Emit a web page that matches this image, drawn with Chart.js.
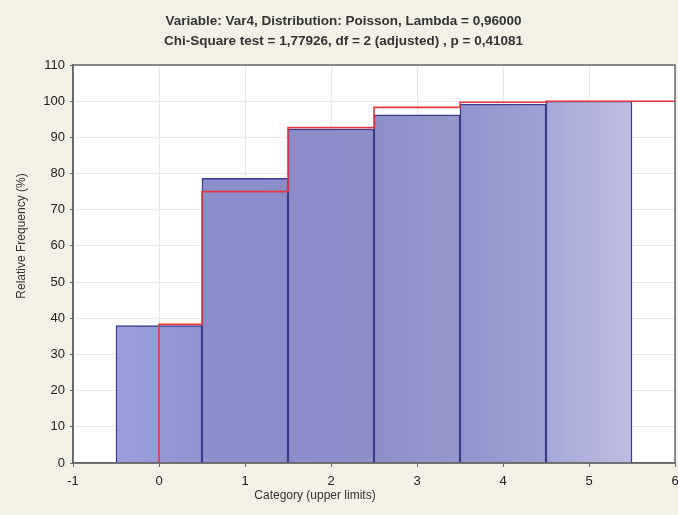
<!DOCTYPE html>
<html>
<head>
<meta charset="utf-8">
<script src="https://cdn.jsdelivr.net/npm/chart.js@4/dist/chart.umd.min.js"></script>
<style>
  html, body { margin: 0; padding: 0; background: #f3f0e6; }
  canvas { display: block; }
</style>
</head>
<body>
<canvas id="c" width="678" height="515"></canvas>
<script>
// ---- data ----
const titleLines = [
  'Variable: Var4, Distribution: Poisson, Lambda = 0,96000',
  'Chi-Square test = 1,77926, df = 2 (adjusted) , p = 0,41081'
];
const xAxisTitle = 'Category (upper limits)';
const yAxisTitle = 'Relative Frequency (%)';
const categories = [0, 1, 2, 3, 4, 5];
const observedPct = [38.0, 78.7, 92.3, 96.2, 99.2, 100.0];   // cumulative observed (bars)
const expectedPct = [38.3, 75.0, 92.7, 98.3, 99.7, 100.0];   // cumulative Poisson (red line)
const stepEdges = [0, 0.5, 1.5, 2.5, 3.5, 4.5];              // where the red line steps up
const xTicks = [-1, 0, 1, 2, 3, 4, 5, 6];
const yTicks = [0, 10, 20, 30, 40, 50, 60, 70, 80, 90, 100, 110];

// ---- styles ----
const barLeft  = ['#9ca1dc', '#8d8fcd', '#8b8cc8', '#8d8ec8', '#8f95cb', '#a4a8d8'];
const barRight = ['#8e92d0', '#8b8dca', '#8e8fc9', '#9598cc', '#9ea3d4', '#c0bde1'];
const FONT = "'Liberation Sans', Arial, sans-serif";

const barData = categories.map((c, i) => ({ x: c, y: observedPct[i] }));
const xMax = xTicks[xTicks.length - 1];
const lineData = [{ x: stepEdges[0], y: 0 }];
expectedPct.forEach((v, i) => {
  lineData.push({ x: stepEdges[i], y: v });
  lineData.push({ x: i + 1 < stepEdges.length ? stepEdges[i + 1] : xMax, y: v });
});

function barFill(ctx) {
  const chart = ctx.chart;
  const i = ctx.dataIndex;
  if (!chart.chartArea || i === undefined) return barLeft[i || 0];
  const xs = chart.scales.x;
  const c = categories[i];
  const x0 = xs.getPixelForValue(c - 0.5), x1 = xs.getPixelForValue(c + 0.5);
  const g = chart.ctx.createLinearGradient(x0, 0, x1, 0);
  g.addColorStop(0, barLeft[i]);
  g.addColorStop(1, barRight[i]);
  return g;
}

const plotFrame = {
  id: 'plotFrame',
  beforeDraw(chart) {
    const { ctx, chartArea: a } = chart;
    ctx.save();
    ctx.fillStyle = '#ffffff';
    ctx.fillRect(a.left, a.top, a.right - a.left, a.bottom - a.top);
    ctx.restore();
  },
  afterDraw(chart) {
    const { ctx, chartArea: a } = chart;
    ctx.save();
    ctx.strokeStyle = '#666666';
    ctx.lineWidth = 1.5;
    ctx.strokeRect(a.left, a.top, a.right - a.left, a.bottom - a.top);
    ctx.fillStyle = '#333333';
    ctx.font = '12px ' + FONT;
    ctx.textAlign = 'center';
    ctx.textBaseline = 'middle';
    ctx.fillText(xAxisTitle, 315, 496);
    ctx.translate(22, 236);
    ctx.rotate(-Math.PI / 2);
    ctx.fillText(yAxisTitle, 0, 0);
    ctx.restore();
  }
};

new Chart(document.getElementById('c'), {
  type: 'bar',
  data: {
    datasets: [
      {
        type: 'line',
        data: lineData,
        borderColor: '#e23a3f',
        borderWidth: 1.6,
        pointRadius: 0,
        fill: false,
        tension: 0,
        order: 0
      },
      {
        type: 'bar',
        data: barData,
        backgroundColor: barFill,
        borderColor: '#3c3c8e',
        borderWidth: 1.5,
        borderSkipped: 'bottom',
        barPercentage: 1,
        categoryPercentage: 1,
        order: 1
      }
    ]
  },
  options: {
    responsive: false,
    devicePixelRatio: 1,
    animation: false,
    layout: { padding: { left: 12, right: 3, top: 0, bottom: 0 } },
    plugins: {
      legend: { display: false },
      tooltip: { enabled: false },
      title: {
        display: true,
        text: titleLines,
        color: '#333333',
        font: { family: FONT, size: 13.5, weight: 'bold', lineHeight: 20 / 13.5 },
        padding: { top: 11, bottom: 14 }
      }
    },
    scales: {
      x: {
        type: 'linear',
        min: xTicks[0],
        max: xMax,
        offset: false,
        afterBuildTicks(s) { s.ticks = xTicks.map(v => ({ value: v })); },
        afterFit(s) { s.height = 52; s.paddingLeft = 0; s.paddingRight = 0; },
        ticks: { color: '#222222', font: { family: FONT, size: 13 }, padding: 7, maxRotation: 0 },
        grid: { offset: false, color: '#e8e8e8', tickColor: '#666666', tickLength: 4 },
        border: { color: '#666666', width: 1.5 }
      },
      y: {
        min: yTicks[0],
        max: yTicks[yTicks.length - 1],
        afterBuildTicks(s) { s.ticks = yTicks.map(v => ({ value: v })); },
        afterFit(s) { s.width = 61; },
        ticks: { color: '#222222', font: { family: FONT, size: 13 }, padding: 5 },
        grid: { color: '#e8e8e8', tickColor: '#666666', tickLength: 3 },
        border: { color: '#666666', width: 1.5 }
      }
    }
  },
  plugins: [plotFrame]
});
</script>
</body>
</html>
